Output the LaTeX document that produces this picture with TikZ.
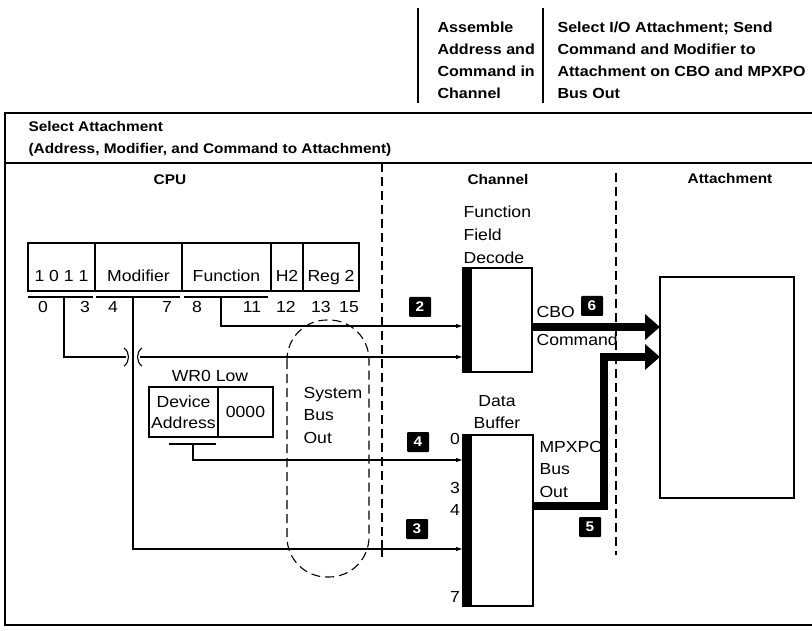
\documentclass[tikz,border=0pt]{standalone}
\usepackage{fontspec}
\setmainfont{Liberation Sans}[FakeStretch=1.1]
\usetikzlibrary{arrows.meta,positioning}

\begin{document}
\begin{tikzpicture}[x=1pt,y=-1pt,
 font=\fontsize{16}{22.5}\selectfont,line width=1.1pt,
 cell/.style={draw,line width=1.3pt,outer sep=0pt,anchor=north west,%
   minimum height=48pt,text height=34pt,text depth=5pt,inner ysep=4.5pt,inner xsep=0pt},
 blk/.style={draw,line width=1.3pt,outer sep=0pt,anchor=north west,inner sep=0pt},
 head/.style={font=\fontsize{14.6}{22}\selectfont\bfseries,align=left,anchor=west,inner sep=0pt},
 colhead/.style={font=\fontsize{14}{22}\selectfont\bfseries,inner sep=0pt},
 txt/.style={align=left,anchor=west,inner sep=0pt},
 num/.style={inner sep=0pt},
 tag/.style={fill=black,text=white,font=\fontsize{14}{14}\selectfont\bfseries,%
   minimum width=22pt,minimum height=20pt,inner sep=0pt,rounded corners=1pt},
 arr/.style={-{Latex[length=7pt,width=4.5pt]},line width=1.1pt},
 bus/.style={-{Triangle[length=15pt,width=25pt]},line width=8pt},
 sep/.style={dash pattern=on 9pt off 5pt,line width=1.1pt},
 frame/.style={line width=1.6pt}]
\useasboundingbox (0,0) rectangle (812,631);
% phase headings
\draw[line width=1.4pt] (418,8) -- (418,103);
\draw[line width=1.4pt] (543,8) -- (543,103);
\node[head] (hd1) at (437,60) {Assemble\\Address and\\Command in\\Channel};
\node[head] (hd2) at (557,60) {Select I/O Attachment; Send\\Command and Modifier to\\%
  Attachment on CBO and MPXPO\\Bus Out};
% frame
\draw[frame] (812,113) -- (5,113) -- (5,625) -- (812,625);
\draw[frame] (5,163) -- (812,163);
\node[head,font=\fontsize{14}{22}\selectfont\bfseries] (title) at (28,139)
  {Select Attachment\\(Address, Modifier, and Command to Attachment)};
\node[colhead] (cpu) at (170,180) {CPU};
\node[colhead] (chan) at (498,179) {Channel};
\node[colhead] (attl) at (730,178) {Attachment};
\draw[sep] (382,163) -- (382,540);
\draw (382,540) -- (382,557);
\draw[sep] (616,173) -- (616,555);
% instruction register
\node[cell,minimum width=67pt] (bits) at (28,243) {1 0 1 1};
\node[cell,minimum width=87pt] (mod) at (bits.north east) {Modifier};
\node[cell,minimum width=89pt] (fun) at (mod.north east) {Function};
\node[cell,minimum width=32pt] (h2) at (fun.north east) {H2};
\node[cell,minimum width=56pt] (reg) at (h2.north east) {Reg 2};
\foreach \a/\b in {28/93,96/180,184/268}
  \draw[line width=1.3pt] (\a,297) -- (\b,297);
\foreach \x/\t in {43/0,85/3,113/4,167/7,197/8,252/11,286/12,321/13,349/15}
  \node[num] (n\t) at (\x,307) {\t};
% WR0 low
\node[num] (wr0) at (210,376) {WR0 Low};
\node[blk,minimum width=69pt,minimum height=50pt,align=center,%
  font=\fontsize{16}{21}\selectfont] (dev) at (149,387) {Device\\Address};
\node[blk,minimum width=55pt,minimum height=50pt] (zero) at (dev.north east) {0000};
\draw[line width=1.3pt] (169,444) -- (216,444);
% system bus out
\draw[sep,rounded corners=40pt] (287,320) rectangle (369,577);
\node[txt] (sbo) at (303,415) {System\\Bus\\Out};
% channel
\node[blk,minimum width=69pt,minimum height=104pt] (ffd) at (463,268) {};
\fill (ffd.north west) rectangle ([xshift=9pt]ffd.south west);
\node[txt,font=\fontsize{16}{23}\selectfont] (ffdlbl) at (463,235) {Function\\Field\\Decode};
\node[blk,minimum width=70pt,minimum height=171pt] (dbuf) at (463,435) {};
\fill (dbuf.north west) rectangle ([xshift=9pt]dbuf.south west);
\node[num,align=center] (dblbl) at (497,412) {Data\\Buffer};
\node[num] (d0) at (455,439) {0};
\node[num] (d3) at (455,488) {3};
\node[num] (d4) at (455,510) {4};
\node[num] (d7) at (455,597) {7};
\node[txt] (cbo) at (536,312) {CBO};
\node[txt] (cmd) at (536,340) {Command};
\node[txt] (mpx) at (539,469) {MPXPO\\Bus\\Out};
% attachment
\node[blk,minimum width=134pt,minimum height=221pt] (att) at (660,277) {};
% step tags
\node[tag] (t2) at (420,307) {2};
\node[tag] (t4) at (418,442) {4};
\node[tag] (t3) at (417,529) {3};
\node[tag] (t6) at (592,306) {6};
\node[tag] (t5) at (590,527) {5};
% connectors
\coordinate (s0) at (64,297);
\coordinate (s4) at (133,297);
\coordinate (s8) at (221,297);
\coordinate (s16) at (193,444);
\coordinate (brkL) at (126,357);
\coordinate (brkR) at (140,357);
\draw (s0) |- (brkL);
\draw (124,348) .. controls (130,352) and (130,362) .. (124,366);
\draw (142,348) .. controls (136,352) and (136,362) .. (142,366);
\draw[arr] (brkR) -- (brkR -| ffd.west);
\draw[arr] (s8) |- ([yshift=-58pt]ffd.north west);
\draw[arr] (s16) |- ([yshift=-25pt]dbuf.north west);
\draw[arr] (s4) |- ([yshift=-114pt]dbuf.north west);
\draw[bus] ([yshift=-59pt]ffd.north east) -- ([yshift=-50pt]att.north west);
\draw[bus] ([yshift=-71pt]dbuf.north east) -| ([xshift=-56pt,yshift=-80pt]att.north west)
  -- ([yshift=-80pt]att.north west);
\end{tikzpicture}
\end{document}
